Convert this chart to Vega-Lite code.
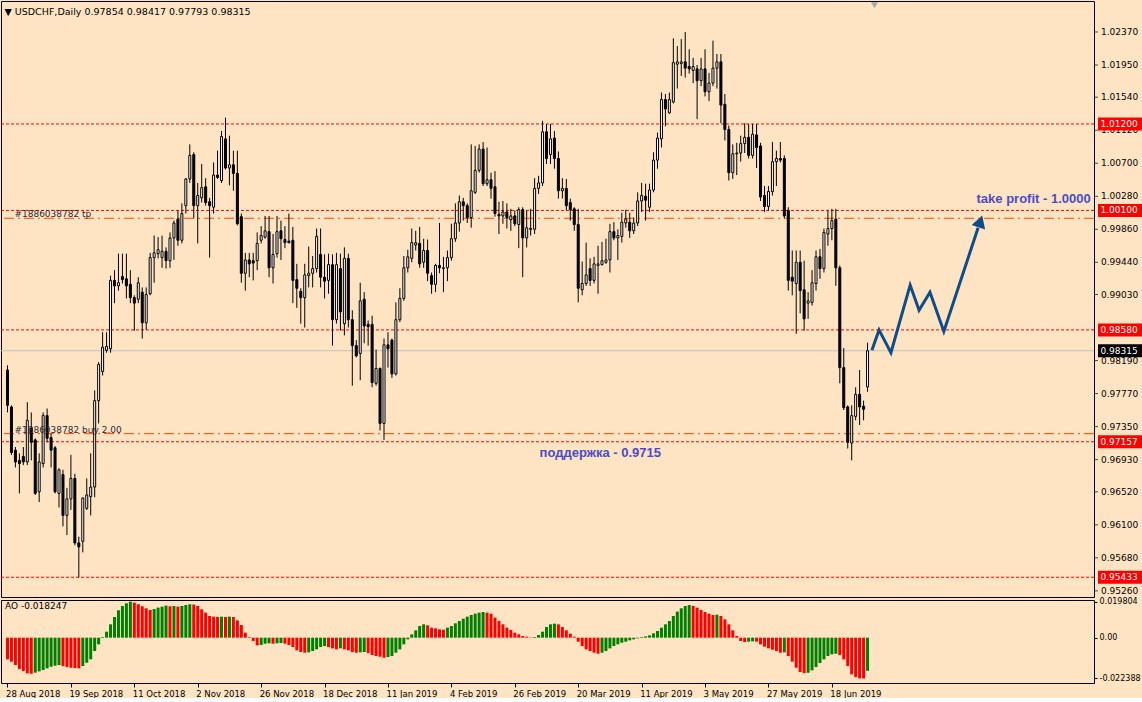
{
"$schema":"https://vega.github.io/schema/vega-lite/v6.json",
"background":"#FFE4C4",
"padding":0,
"spacing":3,
"bounds":"flush",
"config":{"view":{"stroke":"#000000","strokeWidth":1,"fill":"#FFE4C4"},"font":"DejaVu Sans",
 "axis":{"labelFont":"DejaVu Sans","labelFontSize":9,"labelColor":"#000","tickColor":"#000","domain":false,"grid":false,"title":null,"labelOverlap":false,"labelSeparation":0}},
"datasets":{
"candles":[
{"i":0,"o":0.9807,"h":0.9813,"l":0.9753,"c":0.9762},
{"i":1,"o":0.9760,"h":0.9762,"l":0.9699,"c":0.9702},
{"i":2,"o":0.9705,"h":0.9709,"l":0.9683,"c":0.9690},
{"i":3,"o":0.9692,"h":0.9701,"l":0.9650,"c":0.9688},
{"i":4,"o":0.9697,"h":0.9709,"l":0.9686,"c":0.9690},
{"i":5,"o":0.9690,"h":0.9766,"l":0.9686,"c":0.9743},
{"i":6,"o":0.9733,"h":0.9753,"l":0.9692,"c":0.9715},
{"i":7,"o":0.9718,"h":0.9720,"l":0.9648,"c":0.9650},
{"i":8,"o":0.9652,"h":0.9701,"l":0.9639,"c":0.9690},
{"i":9,"o":0.9688,"h":0.9753,"l":0.9683,"c":0.9749},
{"i":10,"o":0.9749,"h":0.9758,"l":0.9715,"c":0.9720},
{"i":11,"o":0.9721,"h":0.9726,"l":0.9683,"c":0.9705},
{"i":12,"o":0.9708,"h":0.9710,"l":0.9650,"c":0.9652},
{"i":13,"o":0.9650,"h":0.9682,"l":0.9632,"c":0.9680},
{"i":14,"o":0.9674,"h":0.9680,"l":0.9608,"c":0.9622},
{"i":15,"o":0.9622,"h":0.9657,"l":0.9597,"c":0.9643},
{"i":16,"o":0.9643,"h":0.9699,"l":0.9629,"c":0.9669},
{"i":17,"o":0.9669,"h":0.9675,"l":0.9584,"c":0.9587},
{"i":18,"o":0.9587,"h":0.9595,"l":0.9543,"c":0.9582},
{"i":19,"o":0.9589,"h":0.9645,"l":0.9575,"c":0.9644},
{"i":20,"o":0.9631,"h":0.9669,"l":0.9629,"c":0.9648},
{"i":21,"o":0.9646,"h":0.9701,"l":0.9622,"c":0.9658},
{"i":22,"o":0.9658,"h":0.9781,"l":0.9645,"c":0.9768},
{"i":23,"o":0.9768,"h":0.9817,"l":0.9739,"c":0.9814},
{"i":24,"o":0.9805,"h":0.9855,"l":0.9800,"c":0.9836},
{"i":25,"o":0.9832,"h":0.9855,"l":0.9829,"c":0.9837},
{"i":26,"o":0.9834,"h":0.9927,"l":0.9829,"c":0.9921},
{"i":27,"o":0.9921,"h":0.9934,"l":0.9892,"c":0.9914},
{"i":28,"o":0.9914,"h":0.9955,"l":0.9908,"c":0.9918},
{"i":29,"o":0.9926,"h":0.9955,"l":0.9917,"c":0.9922},
{"i":30,"o":0.9923,"h":0.9955,"l":0.9898,"c":0.9914},
{"i":31,"o":0.9916,"h":0.9934,"l":0.9892,"c":0.9899},
{"i":32,"o":0.9899,"h":0.9902,"l":0.9857,"c":0.9892},
{"i":33,"o":0.9897,"h":0.9925,"l":0.9892,"c":0.9918},
{"i":34,"o":0.9906,"h":0.9912,"l":0.9847,"c":0.9867},
{"i":35,"o":0.9867,"h":0.9912,"l":0.9858,"c":0.9903},
{"i":36,"o":0.9904,"h":0.9956,"l":0.9902,"c":0.9950},
{"i":37,"o":0.9950,"h":0.9978,"l":0.9918,"c":0.9956},
{"i":38,"o":0.9955,"h":0.9976,"l":0.9949,"c":0.9960},
{"i":39,"o":0.9950,"h":0.9978,"l":0.9937,"c":0.9958},
{"i":40,"o":0.9958,"h":0.9963,"l":0.9936,"c":0.9946},
{"i":41,"o":0.9946,"h":0.9982,"l":0.9937,"c":0.9975},
{"i":42,"o":0.9975,"h":0.9997,"l":0.9947,"c":0.9994},
{"i":43,"o":0.9999,"h":1.0010,"l":0.9965,"c":0.9972},
{"i":44,"o":0.9972,"h":1.0019,"l":0.9968,"c":1.0006},
{"i":45,"o":1.0016,"h":1.0051,"l":1.0006,"c":1.0050},
{"i":46,"o":1.0050,"h":1.0094,"l":1.0045,"c":1.0080},
{"i":47,"o":1.0081,"h":1.0084,"l":1.0000,"c":1.0016},
{"i":48,"o":1.0016,"h":1.0045,"l":0.9968,"c":1.0029},
{"i":49,"o":1.0026,"h":1.0069,"l":1.0020,"c":1.0039},
{"i":50,"o":1.0040,"h":1.0051,"l":1.0016,"c":1.0020},
{"i":51,"o":1.0021,"h":1.0026,"l":0.9950,"c":1.0016},
{"i":52,"o":1.0014,"h":1.0071,"l":1.0006,"c":1.0055},
{"i":53,"o":1.0055,"h":1.0086,"l":1.0050,"c":1.0052},
{"i":54,"o":1.0048,"h":1.0111,"l":1.0045,"c":1.0104},
{"i":55,"o":1.0101,"h":1.0128,"l":1.0062,"c":1.0064},
{"i":56,"o":1.0064,"h":1.0105,"l":1.0042,"c":1.0068},
{"i":57,"o":1.0068,"h":1.0086,"l":1.0035,"c":1.0057},
{"i":58,"o":1.0057,"h":1.0086,"l":0.9991,"c":0.9993},
{"i":59,"o":1.0002,"h":1.0006,"l":0.9918,"c":0.9930},
{"i":60,"o":0.9930,"h":0.9956,"l":0.9908,"c":0.9947},
{"i":61,"o":0.9947,"h":0.9956,"l":0.9925,"c":0.9942},
{"i":62,"o":0.9946,"h":0.9956,"l":0.9921,"c":0.9943},
{"i":63,"o":0.9946,"h":0.9982,"l":0.9934,"c":0.9968},
{"i":64,"o":0.9972,"h":0.9990,"l":0.9968,"c":0.9978},
{"i":65,"o":0.9976,"h":1.0003,"l":0.9974,"c":0.9984},
{"i":66,"o":0.9983,"h":1.0003,"l":0.9925,"c":0.9937},
{"i":67,"o":0.9937,"h":0.9980,"l":0.9917,"c":0.9954},
{"i":68,"o":0.9955,"h":1.0003,"l":0.9950,"c":0.9983},
{"i":69,"o":0.9984,"h":0.9997,"l":0.9947,"c":0.9974},
{"i":70,"o":0.9973,"h":0.9990,"l":0.9962,"c":0.9969},
{"i":71,"o":0.9971,"h":1.0006,"l":0.9968,"c":0.9969},
{"i":72,"o":0.9972,"h":0.9989,"l":0.9892,"c":0.9921},
{"i":73,"o":0.9922,"h":0.9942,"l":0.9886,"c":0.9911},
{"i":74,"o":0.9907,"h":0.9911,"l":0.9866,"c":0.9899},
{"i":75,"o":0.9899,"h":0.9942,"l":0.9861,"c":0.9928},
{"i":76,"o":0.9927,"h":0.9964,"l":0.9912,"c":0.9930},
{"i":77,"o":0.9930,"h":0.9952,"l":0.9912,"c":0.9936},
{"i":78,"o":0.9936,"h":0.9987,"l":0.9931,"c":0.9977},
{"i":79,"o":0.9954,"h":0.9987,"l":0.9912,"c":0.9925},
{"i":80,"o":0.9925,"h":0.9954,"l":0.9898,"c":0.9920},
{"i":81,"o":0.9921,"h":0.9955,"l":0.9904,"c":0.9941},
{"i":82,"o":0.9941,"h":0.9954,"l":0.9838,"c":0.9871},
{"i":83,"o":0.9871,"h":0.9956,"l":0.9866,"c":0.9941},
{"i":84,"o":0.9936,"h":0.9955,"l":0.9857,"c":0.9881},
{"i":85,"o":0.9866,"h":0.9963,"l":0.9851,"c":0.9949},
{"i":86,"o":0.9949,"h":0.9955,"l":0.9861,"c":0.9871},
{"i":87,"o":0.9871,"h":0.9883,"l":0.9787,"c":0.9838},
{"i":88,"o":0.9838,"h":0.9845,"l":0.9823,"c":0.9825},
{"i":89,"o":0.9828,"h":0.9918,"l":0.9794,"c":0.9895},
{"i":90,"o":0.9897,"h":0.9906,"l":0.9841,"c":0.9863},
{"i":91,"o":0.9865,"h":0.9870,"l":0.9838,"c":0.9862},
{"i":92,"o":0.9865,"h":0.9876,"l":0.9785,"c":0.9791},
{"i":93,"o":0.9790,"h":0.9833,"l":0.9787,"c":0.9809},
{"i":94,"o":0.9809,"h":0.9810,"l":0.9730,"c":0.9739},
{"i":95,"o":0.9739,"h":0.9847,"l":0.9718,"c":0.9839},
{"i":96,"o":0.9839,"h":0.9855,"l":0.9810,"c":0.9834},
{"i":97,"o":0.9845,"h":0.9847,"l":0.9797,"c":0.9802},
{"i":98,"o":0.9802,"h":0.9893,"l":0.9800,"c":0.9871},
{"i":99,"o":0.9871,"h":0.9911,"l":0.9868,"c":0.9898},
{"i":100,"o":0.9898,"h":0.9952,"l":0.9895,"c":0.9937},
{"i":101,"o":0.9937,"h":0.9960,"l":0.9931,"c":0.9951},
{"i":102,"o":0.9949,"h":0.9987,"l":0.9944,"c":0.9969},
{"i":103,"o":0.9966,"h":0.9984,"l":0.9959,"c":0.9969},
{"i":104,"o":0.9968,"h":0.9989,"l":0.9937,"c":0.9942},
{"i":105,"o":0.9944,"h":0.9974,"l":0.9937,"c":0.9959},
{"i":106,"o":0.9959,"h":0.9973,"l":0.9920,"c":0.9930},
{"i":107,"o":0.9927,"h":0.9931,"l":0.9904,"c":0.9916},
{"i":108,"o":0.9916,"h":0.9942,"l":0.9906,"c":0.9940},
{"i":109,"o":0.9940,"h":0.9994,"l":0.9930,"c":0.9937},
{"i":110,"o":0.9936,"h":0.9951,"l":0.9906,"c":0.9937},
{"i":111,"o":0.9937,"h":0.9959,"l":0.9920,"c":0.9950},
{"i":112,"o":0.9950,"h":0.9993,"l":0.9946,"c":0.9974},
{"i":113,"o":0.9974,"h":1.0019,"l":0.9970,"c":0.9994},
{"i":114,"o":0.9994,"h":1.0029,"l":0.9983,"c":1.0021},
{"i":115,"o":1.0021,"h":1.0026,"l":0.9997,"c":1.0016},
{"i":116,"o":1.0016,"h":1.0019,"l":0.9994,"c":1.0001},
{"i":117,"o":1.0001,"h":1.0094,"l":0.9988,"c":1.0035},
{"i":118,"o":1.0033,"h":1.0092,"l":1.0031,"c":1.0061},
{"i":119,"o":1.0061,"h":1.0094,"l":1.0058,"c":1.0088},
{"i":120,"o":1.0088,"h":1.0097,"l":1.0041,"c":1.0044},
{"i":121,"o":1.0044,"h":1.0090,"l":1.0041,"c":1.0049},
{"i":122,"o":1.0049,"h":1.0058,"l":1.0025,"c":1.0038},
{"i":123,"o":1.0040,"h":1.0060,"l":1.0002,"c":1.0006},
{"i":124,"o":1.0005,"h":1.0021,"l":0.9980,"c":1.0003},
{"i":125,"o":1.0003,"h":1.0022,"l":0.9993,"c":1.0008},
{"i":126,"o":1.0008,"h":1.0019,"l":0.9987,"c":1.0001},
{"i":127,"o":0.9998,"h":1.0012,"l":0.9984,"c":1.0003},
{"i":128,"o":1.0003,"h":1.0010,"l":0.9990,"c":0.9993},
{"i":129,"o":0.9992,"h":1.0014,"l":0.9962,"c":1.0011},
{"i":130,"o":1.0011,"h":1.0014,"l":0.9925,"c":0.9975},
{"i":131,"o":0.9975,"h":1.0010,"l":0.9963,"c":0.9988},
{"i":132,"o":0.9987,"h":1.0012,"l":0.9978,"c":0.9986},
{"i":133,"o":0.9986,"h":1.0051,"l":0.9980,"c":1.0038},
{"i":134,"o":1.0038,"h":1.0054,"l":1.0031,"c":1.0045},
{"i":135,"o":1.0045,"h":1.0124,"l":1.0041,"c":1.0110},
{"i":136,"o":1.0110,"h":1.0120,"l":1.0069,"c":1.0076},
{"i":137,"o":1.0081,"h":1.0120,"l":1.0069,"c":1.0101},
{"i":138,"o":1.0102,"h":1.0111,"l":1.0063,"c":1.0076},
{"i":139,"o":1.0076,"h":1.0085,"l":1.0025,"c":1.0035},
{"i":140,"o":1.0035,"h":1.0051,"l":1.0025,"c":1.0038},
{"i":141,"o":1.0038,"h":1.0050,"l":1.0010,"c":1.0016},
{"i":142,"o":1.0020,"h":1.0025,"l":0.9997,"c":1.0011},
{"i":143,"o":1.0012,"h":1.0014,"l":0.9984,"c":0.9992},
{"i":144,"o":0.9992,"h":1.0012,"l":0.9893,"c":0.9911},
{"i":145,"o":0.9909,"h":0.9945,"l":0.9902,"c":0.9917},
{"i":146,"o":0.9917,"h":0.9969,"l":0.9914,"c":0.9928},
{"i":147,"o":0.9936,"h":0.9949,"l":0.9914,"c":0.9921},
{"i":148,"o":0.9921,"h":0.9951,"l":0.9917,"c":0.9942},
{"i":149,"o":0.9940,"h":0.9965,"l":0.9904,"c":0.9942},
{"i":150,"o":0.9941,"h":0.9970,"l":0.9940,"c":0.9946},
{"i":151,"o":0.9944,"h":0.9974,"l":0.9942,"c":0.9947},
{"i":152,"o":0.9947,"h":0.9993,"l":0.9931,"c":0.9983},
{"i":153,"o":0.9983,"h":0.9995,"l":0.9972,"c":0.9975},
{"i":154,"o":0.9975,"h":0.9986,"l":0.9947,"c":0.9978},
{"i":155,"o":0.9977,"h":1.0007,"l":0.9969,"c":0.9995},
{"i":156,"o":0.9994,"h":1.0011,"l":0.9988,"c":0.9999},
{"i":157,"o":0.9995,"h":1.0007,"l":0.9975,"c":0.9984},
{"i":158,"o":0.9984,"h":1.0001,"l":0.9980,"c":0.9994},
{"i":159,"o":0.9994,"h":1.0033,"l":0.9990,"c":1.0022},
{"i":160,"o":1.0022,"h":1.0045,"l":1.0008,"c":1.0029},
{"i":161,"o":1.0028,"h":1.0044,"l":0.9997,"c":1.0023},
{"i":162,"o":1.0014,"h":1.0044,"l":1.0008,"c":1.0036},
{"i":163,"o":1.0036,"h":1.0084,"l":1.0033,"c":1.0074},
{"i":164,"o":1.0074,"h":1.0109,"l":1.0063,"c":1.0102},
{"i":165,"o":1.0101,"h":1.0160,"l":1.0090,"c":1.0151},
{"i":166,"o":1.0151,"h":1.0158,"l":1.0117,"c":1.0139},
{"i":167,"o":1.0134,"h":1.0160,"l":1.0133,"c":1.0151},
{"i":168,"o":1.0148,"h":1.0229,"l":1.0146,"c":1.0198},
{"i":169,"o":1.0196,"h":1.0219,"l":1.0165,"c":1.0199},
{"i":170,"o":1.0197,"h":1.0228,"l":1.0181,"c":1.0199},
{"i":171,"o":1.0199,"h":1.0237,"l":1.0179,"c":1.0191},
{"i":172,"o":1.0193,"h":1.0215,"l":1.0184,"c":1.0190},
{"i":173,"o":1.0188,"h":1.0204,"l":1.0172,"c":1.0193},
{"i":174,"o":1.0190,"h":1.0195,"l":1.0126,"c":1.0175},
{"i":175,"o":1.0175,"h":1.0204,"l":1.0168,"c":1.0190},
{"i":176,"o":1.0190,"h":1.0215,"l":1.0155,"c":1.0161},
{"i":177,"o":1.0161,"h":1.0185,"l":1.0149,"c":1.0172},
{"i":178,"o":1.0172,"h":1.0226,"l":1.0168,"c":1.0191},
{"i":179,"o":1.0191,"h":1.0209,"l":1.0165,"c":1.0199},
{"i":180,"o":1.0199,"h":1.0209,"l":1.0121,"c":1.0144},
{"i":181,"o":1.0145,"h":1.0158,"l":1.0099,"c":1.0113},
{"i":182,"o":1.0113,"h":1.0118,"l":1.0048,"c":1.0058},
{"i":183,"o":1.0058,"h":1.0094,"l":1.0050,"c":1.0082},
{"i":184,"o":1.0082,"h":1.0096,"l":1.0055,"c":1.0083},
{"i":185,"o":1.0083,"h":1.0105,"l":1.0072,"c":1.0095},
{"i":186,"o":1.0095,"h":1.0121,"l":1.0083,"c":1.0103},
{"i":187,"o":1.0103,"h":1.0120,"l":1.0076,"c":1.0080},
{"i":188,"o":1.0080,"h":1.0120,"l":1.0076,"c":1.0107},
{"i":189,"o":1.0106,"h":1.0120,"l":1.0064,"c":1.0090},
{"i":190,"o":1.0092,"h":1.0096,"l":1.0022,"c":1.0027},
{"i":191,"o":1.0029,"h":1.0041,"l":1.0008,"c":1.0015},
{"i":192,"o":1.0015,"h":1.0041,"l":1.0010,"c":1.0034},
{"i":193,"o":1.0034,"h":1.0097,"l":1.0029,"c":1.0072},
{"i":194,"o":1.0072,"h":1.0086,"l":1.0041,"c":1.0076},
{"i":195,"o":1.0076,"h":1.0097,"l":1.0071,"c":1.0074},
{"i":196,"o":1.0076,"h":1.0080,"l":1.0000,"c":1.0003},
{"i":197,"o":1.0010,"h":1.0014,"l":0.9908,"c":0.9921},
{"i":198,"o":0.9925,"h":0.9959,"l":0.9902,"c":0.9920},
{"i":199,"o":0.9917,"h":0.9959,"l":0.9853,"c":0.9944},
{"i":200,"o":0.9944,"h":0.9959,"l":0.9879,"c":0.9908},
{"i":201,"o":0.9909,"h":0.9946,"l":0.9857,"c":0.9872},
{"i":202,"o":0.9892,"h":0.9906,"l":0.9872,"c":0.9895},
{"i":203,"o":0.9893,"h":0.9934,"l":0.9889,"c":0.9918},
{"i":204,"o":0.9917,"h":0.9959,"l":0.9908,"c":0.9951},
{"i":205,"o":0.9951,"h":0.9961,"l":0.9923,"c":0.9936},
{"i":206,"o":0.9936,"h":0.9987,"l":0.9931,"c":0.9982},
{"i":207,"o":0.9980,"h":1.0010,"l":0.9965,"c":0.9987},
{"i":208,"o":0.9987,"h":1.0012,"l":0.9972,"c":0.9997},
{"i":209,"o":0.9999,"h":1.0012,"l":0.9914,"c":0.9937},
{"i":210,"o":0.9937,"h":0.9940,"l":0.9790,"c":0.9810},
{"i":211,"o":0.9810,"h":0.9835,"l":0.9756,"c":0.9759},
{"i":212,"o":0.9760,"h":0.9762,"l":0.9707,"c":0.9715},
{"i":213,"o":0.9714,"h":0.9762,"l":0.9692,"c":0.9749},
{"i":214,"o":0.9748,"h":0.9785,"l":0.9743,"c":0.9776},
{"i":215,"o":0.9776,"h":0.9807,"l":0.9737,"c":0.9760},
{"i":216,"o":0.9761,"h":0.9768,"l":0.9743,"c":0.9757},
{"i":217,"o":0.97854,"h":0.98417,"l":0.97793,"c":0.98315}
],
"ao":[
{"i":0,"ao":-0.01192},{"i":1,"ao":-0.01320},{"i":2,"ao":-0.01504},{"i":3,"ao":-0.01724},{"i":4,"ao":-0.01834},{"i":5,"ao":-0.01962},{"i":6,"ao":-0.01981},{"i":7,"ao":-0.01926},{"i":8,"ao":-0.01852},{"i":9,"ao":-0.01779},
{"i":10,"ao":-0.01687},{"i":11,"ao":-0.01596},{"i":12,"ao":-0.01541},{"i":13,"ao":-0.01504},{"i":14,"ao":-0.01559},{"i":15,"ao":-0.01614},{"i":16,"ao":-0.01651},{"i":17,"ao":-0.01669},{"i":18,"ao":-0.01687},{"i":19,"ao":-0.01559},
{"i":20,"ao":-0.01376},{"i":21,"ao":-0.01192},{"i":22,"ao":-0.00734},{"i":23,"ao":-0.00367},{"i":24,"ao":0.00037},{"i":25,"ao":0.00330},{"i":26,"ao":0.00734},{"i":27,"ao":0.01137},{"i":28,"ao":0.01504},{"i":29,"ao":0.01742},
{"i":30,"ao":0.01889},{"i":31,"ao":0.019804},{"i":32,"ao":0.01926},{"i":33,"ao":0.01834},{"i":34,"ao":0.01724},{"i":35,"ao":0.01614},{"i":36,"ao":0.01522},{"i":37,"ao":0.01577},{"i":38,"ao":0.01651},{"i":39,"ao":0.01706},
{"i":40,"ao":0.01761},{"i":41,"ao":0.01724},{"i":42,"ao":0.01742},{"i":43,"ao":0.01706},{"i":44,"ao":0.01742},{"i":45,"ao":0.01797},{"i":46,"ao":0.01834},{"i":47,"ao":0.01816},{"i":48,"ao":0.01742},{"i":49,"ao":0.01559},
{"i":50,"ao":0.01376},{"i":51,"ao":0.01192},{"i":52,"ao":0.01155},{"i":53,"ao":0.01137},{"i":54,"ao":0.01155},{"i":55,"ao":0.01137},{"i":56,"ao":0.01155},{"i":57,"ao":0.01137},{"i":58,"ao":0.00954},{"i":59,"ao":0.00697},
{"i":60,"ao":0.00275},{"i":61,"ao":0.00037},{"i":62,"ao":-0.00183},{"i":63,"ao":-0.00422},{"i":64,"ao":-0.00403},{"i":65,"ao":-0.00330},{"i":66,"ao":-0.00312},{"i":67,"ao":-0.00330},{"i":68,"ao":-0.00312},{"i":69,"ao":-0.00293},
{"i":70,"ao":-0.00330},{"i":71,"ao":-0.00403},{"i":72,"ao":-0.00514},{"i":73,"ao":-0.00697},{"i":74,"ao":-0.00789},{"i":75,"ao":-0.00825},{"i":76,"ao":-0.00807},{"i":77,"ao":-0.00734},{"i":78,"ao":-0.00642},{"i":79,"ao":-0.00514},
{"i":80,"ao":-0.00459},{"i":81,"ao":-0.00514},{"i":82,"ao":-0.00587},{"i":83,"ao":-0.00642},{"i":84,"ao":-0.00587},{"i":85,"ao":-0.00642},{"i":86,"ao":-0.00697},{"i":87,"ao":-0.00789},{"i":88,"ao":-0.00825},{"i":89,"ao":-0.00807},
{"i":90,"ao":-0.00789},{"i":91,"ao":-0.00844},{"i":92,"ao":-0.00954},{"i":93,"ao":-0.01009},{"i":94,"ao":-0.01045},{"i":95,"ao":-0.01100},{"i":96,"ao":-0.01064},{"i":97,"ao":-0.01009},{"i":98,"ao":-0.00825},{"i":99,"ao":-0.00642},
{"i":100,"ao":-0.00367},{"i":101,"ao":-0.00092},{"i":102,"ao":0.00183},{"i":103,"ao":0.00403},{"i":104,"ao":0.00642},{"i":105,"ao":0.00734},{"i":106,"ao":0.00679},{"i":107,"ao":0.00550},{"i":108,"ao":0.00514},{"i":109,"ao":0.00459},
{"i":110,"ao":0.00440},{"i":111,"ao":0.00550},{"i":112,"ao":0.00642},{"i":113,"ao":0.00789},{"i":114,"ao":0.00917},{"i":115,"ao":0.01045},{"i":116,"ao":0.01155},{"i":117,"ao":0.01247},{"i":118,"ao":0.01320},{"i":119,"ao":0.01376},
{"i":120,"ao":0.01412},{"i":121,"ao":0.01376},{"i":122,"ao":0.01320},{"i":123,"ao":0.01100},{"i":124,"ao":0.00917},{"i":125,"ao":0.00734},{"i":126,"ao":0.00550},{"i":127,"ao":0.00422},{"i":128,"ao":0.00275},{"i":129,"ao":0.00183},
{"i":130,"ao":0.00092},{"i":131,"ao":0.00055},{"i":132,"ao":0.00018},{"i":133,"ao":0.00037},{"i":134,"ao":0.00147},{"i":135,"ao":0.00330},{"i":136,"ao":0.00587},{"i":137,"ao":0.00734},{"i":138,"ao":0.00770},{"i":139,"ao":0.00734},
{"i":140,"ao":0.00587},{"i":141,"ao":0.00403},{"i":142,"ao":0.00220},{"i":143,"ao":0.00055},{"i":144,"ao":-0.00220},{"i":145,"ao":-0.00459},{"i":146,"ao":-0.00642},{"i":147,"ao":-0.00734},{"i":148,"ao":-0.00825},{"i":149,"ao":-0.00880},
{"i":150,"ao":-0.00825},{"i":151,"ao":-0.00734},{"i":152,"ao":-0.00587},{"i":153,"ao":-0.00459},{"i":154,"ao":-0.00367},{"i":155,"ao":-0.00275},{"i":156,"ao":-0.00220},{"i":157,"ao":-0.00147},{"i":158,"ao":-0.00092},{"i":159,"ao":-0.00037},
{"i":160,"ao":0.00037},{"i":161,"ao":0.00073},{"i":162,"ao":0.00128},{"i":163,"ao":0.00238},{"i":164,"ao":0.00367},{"i":165,"ao":0.00550},{"i":166,"ao":0.00734},{"i":167,"ao":0.00917},{"i":168,"ao":0.01192},{"i":169,"ao":0.01431},
{"i":170,"ao":0.01614},{"i":171,"ao":0.01742},{"i":172,"ao":0.01797},{"i":173,"ao":0.01742},{"i":174,"ao":0.01651},{"i":175,"ao":0.01522},{"i":176,"ao":0.01412},{"i":177,"ao":0.01320},{"i":178,"ao":0.01247},{"i":179,"ao":0.01265},
{"i":180,"ao":0.01192},{"i":181,"ao":0.01009},{"i":182,"ao":0.00734},{"i":183,"ao":0.00403},{"i":184,"ao":0.00092},{"i":185,"ao":-0.00183},{"i":186,"ao":-0.00238},{"i":187,"ao":-0.00220},{"i":188,"ao":-0.00202},{"i":189,"ao":-0.00220},
{"i":190,"ao":-0.00367},{"i":191,"ao":-0.00495},{"i":192,"ao":-0.00587},{"i":193,"ao":-0.00660},{"i":194,"ao":-0.00734},{"i":195,"ao":-0.00825},{"i":196,"ao":-0.00807},{"i":197,"ao":-0.01009},{"i":198,"ao":-0.01320},{"i":199,"ao":-0.01651},
{"i":200,"ao":-0.01889},{"i":201,"ao":-0.01944},{"i":202,"ao":-0.01926},{"i":203,"ao":-0.01797},{"i":204,"ao":-0.01614},{"i":205,"ao":-0.01394},{"i":206,"ao":-0.01192},{"i":207,"ao":-0.01009},{"i":208,"ao":-0.00917},{"i":209,"ao":-0.00880},
{"i":210,"ao":-0.00954},{"i":211,"ao":-0.01192},{"i":212,"ao":-0.01559},{"i":213,"ao":-0.02017},{"i":214,"ao":-0.02164},{"i":215,"ao":-0.02237},{"i":216,"ao":-0.022388},{"i":217,"ao":-0.018247}
],
"levels":[{"p":1.012,"t":"1.01200"},{"p":1.001,"t":"1.00100"},{"p":0.9858,"t":"0.98580"},{"p":0.97157,"t":"0.97157"},{"p":0.95433,"t":"0.95433"}],
"current":[{"p":0.98315,"t":"0.98315"}],
"orders":[{"i":1.75,"p":1.0,"t":"#1886038782 tp"},{"i":1.75,"p":0.9726,"t":"#1886038782 buy 2.00"}],
"notes":[{"i":244.5,"p":1.0025,"t":"take profit - 1.0000"},{"i":134.25,"p":0.9701,"t":"поддержка - 0.9715"}],
"path":[{"k":0,"i":218.1,"p":0.9832},{"k":1,"i":219.9,"p":0.9858},{"k":2,"i":222.9,"p":0.9829},{"k":3,"i":227.75,"p":0.9915},{"k":4,"i":230,"p":0.9883},{"k":5,"i":232.75,"p":0.9906},{"k":6,"i":236.25,"p":0.9856},{"k":7,"i":244.9,"p":0.9988}],
"head":[{"i":245.45,"p":0.9996}],
"shift":[{"i":218.75,"p":1.0271}],
"pticks":[{"p":1.0237},{"p":1.0195},{"p":1.0154},{"p":1.0112},{"p":1.007},{"p":1.0028},{"p":0.9986},{"p":0.9944},{"p":0.9903},{"p":0.9819},{"p":0.9777},{"p":0.9735},{"p":0.9693},{"p":0.9652},{"p":0.961},{"p":0.9568},{"p":0.9526}]
},
"vconcat":[
{
 "width":1093,"height":596,
 "title":{"text":"▼  USDCHF,Daily  0.97854 0.98417 0.97793 0.98315","anchor":"start","offset":-15,"dx":4,"font":"DejaVu Sans","fontSize":9.5,"fontWeight":"normal","color":"#000"},
 "layer":[
  {"data":{"name":"levels"},"mark":{"type":"rule","color":"#FF0000","strokeWidth":1,"strokeDash":[3,2]},
   "encoding":{"y":{"field":"p","type":"quantitative","title":null,"scale":{"domain":[0.95182,1.02764],"nice":false,"zero":false},"axis":null}}},
  {"data":{"name":"pticks"},"mark":{"type":"tick","orient":"horizontal","color":"#000000","thickness":1,"size":4,"x":{"expr":"width+2"}},
   "encoding":{"y":{"field":"p","type":"quantitative","title":null}}},
  {"data":{"name":"pticks"},"mark":{"type":"text","align":"left","baseline":"middle","font":"DejaVu Sans","fontSize":9,"color":"#000000","x":{"expr":"width+7"}},
   "encoding":{"y":{"field":"p","type":"quantitative","title":null},"text":{"field":"p","type":"quantitative","format":".5f"}}},
  {"data":{"name":"orders"},"mark":{"type":"rule","color":"#FF4500","strokeWidth":1,"strokeDash":[10,4,2,4]},
   "encoding":{"y":{"field":"p","type":"quantitative","title":null}}},
  {"data":{"name":"current"},"mark":{"type":"rule","color":"#C0C0C0","strokeWidth":1},
   "encoding":{"y":{"field":"p","type":"quantitative","title":null}}},
  {"data":{"name":"candles"},"mark":{"type":"rule","color":"#000000","strokeWidth":1},
   "encoding":{"x":{"field":"i","type":"quantitative","title":null,"scale":{"domain":[-0.375,272.875],"nice":false,"zero":false},"axis":null},
     "y":{"field":"l","type":"quantitative","title":null},"y2":{"field":"h"}}},
  {"data":{"name":"candles"},"mark":{"type":"bar","size":2,"stroke":"#000000","strokeWidth":1},
   "encoding":{"x":{"field":"i","type":"quantitative","title":null},
     "y":{"field":"o","type":"quantitative","title":null},"y2":{"field":"c"},
     "fill":{"condition":{"test":"datum.c >= datum.o","value":"#FFFFFF"},"value":"#000000"}}},
  {"data":{"name":"orders"},"mark":{"type":"text","align":"left","baseline":"alphabetic","dy":-1,"font":"DejaVu Sans","fontSize":9,"color":"#2A2A3A"},
   "encoding":{"x":{"field":"i","type":"quantitative","title":null},"y":{"field":"p","type":"quantitative","title":null},"text":{"field":"t"}}},
  {"data":{"name":"notes"},"mark":{"type":"text","align":"left","baseline":"middle","font":"Liberation Sans","fontSize":13,"fontWeight":"bold","color":"#4B4BC8"},
   "encoding":{"x":{"field":"i","type":"quantitative","title":null},"y":{"field":"p","type":"quantitative","title":null},"text":{"field":"t"}}},
  {"data":{"name":"path"},"mark":{"type":"line","color":"#0F4C8A","strokeWidth":3,"strokeJoin":"miter"},
   "encoding":{"x":{"field":"i","type":"quantitative","title":null},"y":{"field":"p","type":"quantitative","title":null},"order":{"field":"k"}}},
  {"data":{"name":"head"},"mark":{"type":"point","shape":"triangle-up","filled":true,"size":200,"angle":18,"color":"#0F4C8A","opacity":1},
   "encoding":{"x":{"field":"i","type":"quantitative","title":null},"y":{"field":"p","type":"quantitative","title":null}}},
  {"data":{"name":"shift"},"mark":{"type":"point","shape":"triangle-down","filled":true,"size":50,"color":"#A8A8A8","opacity":1},
   "encoding":{"x":{"field":"i","type":"quantitative","title":null},"y":{"field":"p","type":"quantitative","title":null}}},
  {"data":{"name":"levels"},"mark":{"type":"point","shape":"M-1,-0.295H1V0.295H-1Z","filled":true,"size":1936,"color":"#FF0000","opacity":1,"x":{"expr":"width+26"}},
   "encoding":{"y":{"field":"p","type":"quantitative","title":null}}},
  {"data":{"name":"current"},"mark":{"type":"point","shape":"M-1,-0.295H1V0.295H-1Z","filled":true,"size":1936,"color":"#000000","opacity":1,"x":{"expr":"width+26"}},
   "encoding":{"y":{"field":"p","type":"quantitative","title":null}}},
  {"data":{"name":"levels"},"mark":{"type":"text","align":"center","baseline":"middle","font":"DejaVu Sans","fontSize":9,"color":"#FFFFFF","x":{"expr":"width+25"}},
   "encoding":{"y":{"field":"p","type":"quantitative","title":null},"text":{"field":"t"}}},
  {"data":{"name":"current"},"mark":{"type":"text","align":"center","baseline":"middle","font":"DejaVu Sans","fontSize":9,"color":"#FFFFFF","x":{"expr":"width+25"}},
   "encoding":{"y":{"field":"p","type":"quantitative","title":null},"text":{"field":"t"}}}
 ]
},
{
 "width":1093,"height":83,
 "title":{"text":"AO -0.018247","anchor":"start","offset":-13,"dx":4,"font":"DejaVu Sans","fontSize":9,"fontWeight":"normal","color":"#000"},
 "data":{"name":"ao"},
 "transform":[{"window":[{"op":"lag","field":"ao","as":"prev"}],"sort":[{"field":"i"}]}],
 "mark":{"type":"bar","size":3},
 "encoding":{
  "x":{"field":"i","type":"quantitative","title":null,"scale":{"domain":[-0.375,272.875],"nice":false,"zero":false},
   "axis":{"orient":"bottom","values":[0,16,32,48,64,80,96,112,128,144,160,176,192,208],
     "labelExpr":"['28 Aug 2018','19 Sep 2018','11 Oct 2018','2 Nov 2018','26 Nov 2018','18 Dec 2018','11 Jan 2019','4 Feb 2019','26 Feb 2019','20 Mar 2019','11 Apr 2019','3 May 2019','27 May 2019','18 Jun 2019'][round(datum.value/16)]",
     "labelAlign":"left","labelPadding":2,"tickSize":4,"labelFlush":false,"labelOverlap":false,"labelFontSize":8.5,"labelOffset":-2}},
  "y":{"field":"ao","type":"quantitative","title":null,"scale":{"domain":[-0.0249,0.0207],"nice":false,"zero":false},
   "axis":{"orient":"right","values":[0.019804,0,-0.022388],"labelExpr":"datum.value == 0 ? '0.00' : replace(format(datum.value, '.6f'), '−', '-')","tickSize":3,"labelPadding":2,"labelFontSize":8,"labelOverlap":false}},
  "y2":{"datum":0},
  "color":{"condition":{"test":"datum.prev != null && datum.ao > datum.prev","value":"#008000"},"value":"#FF0000"}
 }
}
]
}
